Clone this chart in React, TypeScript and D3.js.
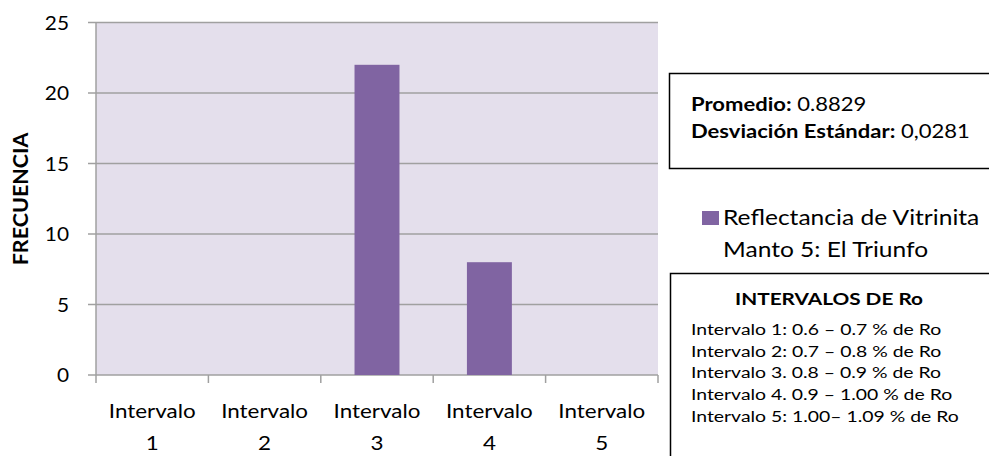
import React from "react";
import * as d3 from "d3";

// Histogram of vitrinite reflectance frequencies per interval
const categories = ["Intervalo 1", "Intervalo 2", "Intervalo 3", "Intervalo 4", "Intervalo 5"];
const frequencies = [0, 0, 22, 8, 0];
const yTicks = [0, 5, 10, 15, 20, 25];
const seriesName = ["Reflectancia de Vitrinita", "Manto 5: El Triunfo"];
const statsLines = [
  { label: "Promedio:", value: " 0.8829" },
  { label: "Desviación Estándar:", value: " 0,0281" },
];
const intervalTitle = "INTERVALOS DE Ro";
const intervalLines = [
  "Intervalo 1: 0.6 – 0.7 % de Ro",
  "Intervalo 2: 0.7 – 0.8 % de Ro",
  "Intervalo 3. 0.8 – 0.9 % de Ro",
  "Intervalo 4. 0.9 – 1.00 % de Ro",
  "Intervalo 5: 1.00– 1.09 % de Ro",
];

const W = 989;
const H = 456;
const FONT = "Lato, 'Open Sans', sans-serif";
const plot = { left: 96, right: 658, top: 22.5, bottom: 375 };
const BAR_COLOR = "#8064A2";
const PLOT_BG = "#E4DFEC";
const GRID = "#A0A0A0";

type TProps = {
  x: number;
  y: number;
  size: number;
  sx?: number;
  anchor?: "start" | "middle" | "end";
  bold?: boolean;
  children: React.ReactNode;
};

// Text with a slight horizontal widening, as in the original Calibri rendering
function T({ x, y, size, sx = 1.18, anchor = "start", bold = false, children }: TProps) {
  return (
    <text
      transform={`translate(${x},${y}) scale(${sx},1)`}
      fontSize={size}
      textAnchor={anchor}
      fontWeight={bold ? "bold" : "normal"}
      fill="#000"
    >
      {children}
    </text>
  );
}

export default function App() {
  const x = d3
    .scaleBand<string>()
    .domain(categories)
    .range([plot.left, plot.right])
    .paddingInner(0.6)
    .paddingOuter(0.3);
  const xCat = d3.scaleBand<string>().domain(categories).range([plot.left, plot.right]);
  const y = d3.scaleLinear().domain([0, 25]).range([plot.bottom, plot.top]);
  const boundaries = d3.range(categories.length + 1).map((i) => plot.left + i * xCat.step());

  return (
    <svg
      width={W}
      height={H}
      style={{ position: "absolute", left: 0, top: 0, background: "#fff" }}
      fontFamily={FONT}
    >
      <rect
        x={plot.left}
        y={plot.top}
        width={plot.right - plot.left}
        height={plot.bottom - plot.top}
        fill={PLOT_BG}
      />
      {yTicks.map((t) => (
        <g key={t}>
          <line x1={plot.left - 8} x2={plot.right} y1={y(t)} y2={y(t)} stroke={GRID} strokeWidth={1.5} />
          <T x={69} y={y(t) + 7} size={19.5} sx={1.07} anchor="end">
            {t}
          </T>
        </g>
      ))}
      <line x1={plot.left} x2={plot.left} y1={plot.top} y2={plot.bottom} stroke={GRID} strokeWidth={1.5} />
      {boundaries.map((b, i) => (
        <line key={i} x1={b} x2={b} y1={plot.bottom} y2={plot.bottom + 8} stroke={GRID} strokeWidth={1.5} />
      ))}
      {categories.map((c, i) => (
        <rect
          key={c}
          x={x(c)}
          y={y(frequencies[i])}
          width={x.bandwidth()}
          height={y(0) - y(frequencies[i])}
          fill={BAR_COLOR}
        />
      ))}
      {categories.map((c) => {
        const [word, num] = c.split(" ");
        const cx = (xCat(c) as number) + xCat.bandwidth() / 2;
        return (
          <g key={c}>
            <T x={cx} y={418} size={19} anchor="middle">{word}</T>
            <T x={cx} y={449.5} size={19} anchor="middle">{num}</T>
          </g>
        );
      })}
      <text
        transform="translate(27.5,199) rotate(-90)"
        textAnchor="middle"
        fontSize={21.5}
        fontWeight="bold"
        fill="#000"
      >
        FRECUENCIA
      </text>

      {/* statistics box */}
      <rect x={669.5} y={73.5} width={330} height={95} fill="#fff" stroke="#000" strokeWidth={1.5} />
      {statsLines.map((s, i) => (
        <T key={i} x={691} y={110.5 + i * 27.7} size={18.5} sx={1.19}>
          <tspan fontWeight="bold">{s.label}</tspan>
          <tspan>{s.value}</tspan>
        </T>
      ))}

      {/* legend */}
      <rect x={702} y={211} width={17} height={14} fill={BAR_COLOR} />
      {seriesName.map((s, i) => (
        <T key={i} x={723} y={225 + i * 32} size={21} sx={1.17}>
          {s}
        </T>
      ))}

      {/* interval definitions */}
      <rect x={670.5} y={273.5} width={330} height={200} fill="#fff" stroke="#000" strokeWidth={1.5} />
      <T x={829} y={305} size={16.5} sx={1.26} anchor="middle" bold>
        {intervalTitle}
      </T>
      {intervalLines.map((l, i) => (
        <T key={i} x={691} y={335 + i * 21.7} size={15.5} sx={1.25}>
          {l}
        </T>
      ))}
    </svg>
  );
}
